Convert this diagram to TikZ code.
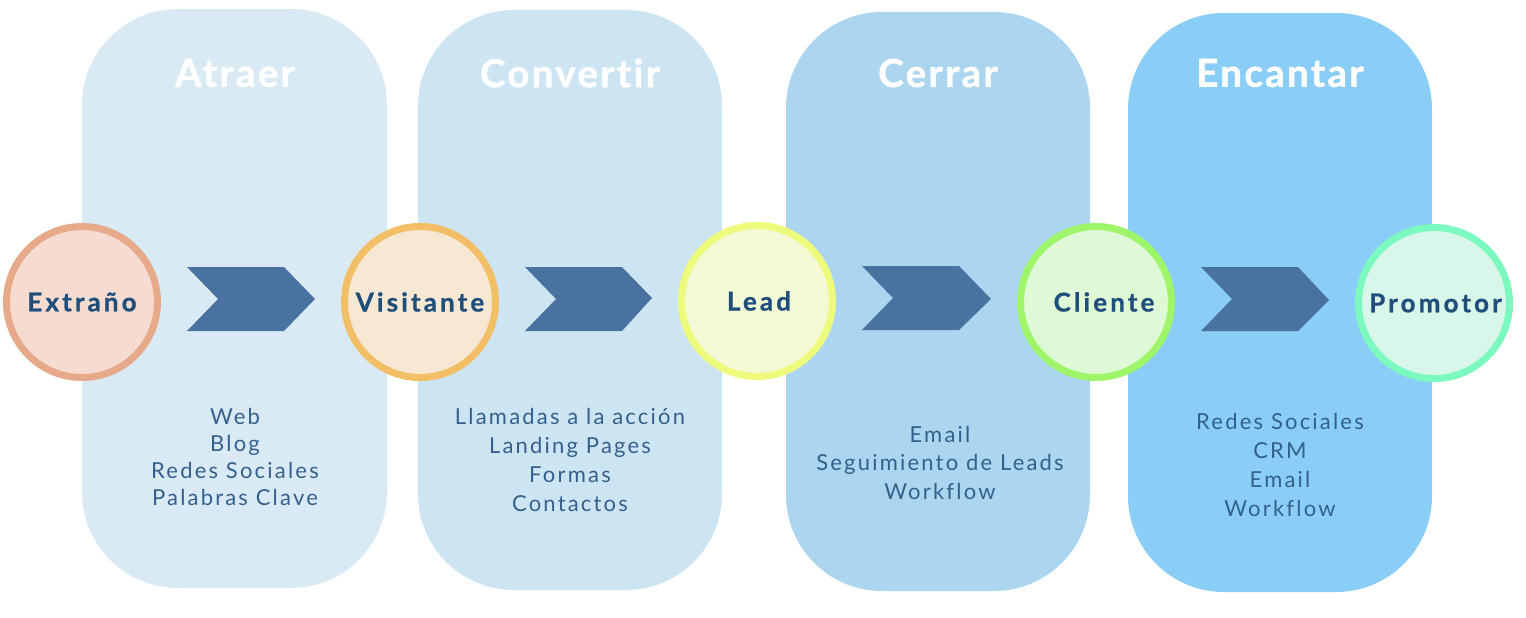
\documentclass[tikz,border=0pt]{standalone}
\usepackage{fontspec}
\setmainfont{Lato}
\newfontfamily\titlefont[LetterSpace=6,Ligatures=NoCommon,BoldFeatures={FakeBold=1.2}]{Lato}
\newfontfamily\labelfont[LetterSpace=12,Ligatures=NoCommon,BoldFeatures={FakeBold=0.8}]{Lato}
\newfontfamily\listfont[LetterSpace=10,Ligatures=NoCommon]{Lato}
\definecolor{pillA}{HTML}{DAEAF5}
\definecolor{pillB}{HTML}{CDE5F3}
\definecolor{pillC}{HTML}{ACD6F0}
\definecolor{pillD}{HTML}{8ACDF7}
\definecolor{chev}{HTML}{4A72A0}
\definecolor{labtxt}{HTML}{1F4E7A}
\definecolor{listtxt}{HTML}{34608E}
\definecolor{strA}{HTML}{E6A98A}\definecolor{filA}{HTML}{F6DCD0}
\definecolor{strB}{HTML}{F2BE66}\definecolor{filB}{HTML}{F6E8D2}
\definecolor{strC}{HTML}{EEFA7C}\definecolor{filC}{HTML}{F4F9D5}
\definecolor{strD}{HTML}{9EF56A}\definecolor{filD}{HTML}{DFF8D6}
\definecolor{strE}{HTML}{7CF9BE}\definecolor{filE}{HTML}{D8F7EA}
\tikzset{
  pill/.style={rounded corners=96pt},
  stage/.style={circle, minimum size=151pt, inner sep=0pt, line width=7pt, text=labtxt, font=\labelfont\bfseries\fontsize{26}{30}\selectfont},
  ttl/.style={text=white, font=\titlefont\bfseries\fontsize{38.5}{42}\selectfont},
  lst/.style={text=listtxt, align=center, font=\listfont\fontsize{22}{#1}\selectfont},
  lst/.default=28.7,
  chevshape/.style={fill=chev},
}
\begin{document}
\begin{tikzpicture}[x=1pt,y=-1pt]
\useasboundingbox (0,0) rectangle (1526,618);
% pills
\fill[pillA, pill] (82,9) rectangle (387,588);
\fill[pillB, pill] (418,10) rectangle (722,590);
\fill[pillC, pill] (786,12) rectangle (1090,591);
\fill[pillD, pill] (1128,13) rectangle (1432,592);
% titles
\node[ttl] (tA) at (235,73) {Atraer};
\node[ttl] (tB) at (570,73) {Convertir};
\node[ttl] (tC) at (938,73) {Cerrar};
\node[ttl] (tD) at (1280,73) {Encantar};
% lists
\node[lst=26.7] (lA) at (235,457) {Web\\Blog\\Redes Sociales\\Palabras Clave};
\node[lst=29] (lB) at (570,459.5) {Llamadas a la acción\\Landing Pages\\Formas\\Contactos};
\node[lst=28.5] (lC) at (940,462.5) {Email\\Seguimiento de Leads\\Workflow};
\node[lst=28.7] (lD) at (1280,465) {Redes Sociales\\CRM\\Email\\Workflow};
% stage circles
\node[stage, draw=strA, fill=filA] (s1) at (82,302) {Extraño};
\node[stage, draw=strB, fill=filB] (s2) at (420,302) {Visitante};
\node[stage, draw=strC, fill=filC] (s3) at (757,301) {\hspace*{4pt}Lead};
\node[stage, draw=strD, fill=filD] (s4) at (1096,302) {\hspace*{16pt}Cliente};
\node[stage, draw=strE, fill=filE] (s5) at (1434,303) {\hspace*{3pt}Promotor};
% chevrons between stages
\foreach \a/\b in {s1/s2, s2/s3, s3/s4, s4/s5}{
  \fill[chevshape] ([xshift=105pt,yshift=35pt]\a.center) -- ([xshift=202pt,yshift=35pt]\a.center)
     -- ([xshift=-105pt,yshift=3pt]\b.center) -- ([xshift=202pt,yshift=-29pt]\a.center)
     -- ([xshift=105pt,yshift=-29pt]\a.center) -- ([xshift=136pt,yshift=3pt]\a.center) -- cycle;
}
\end{tikzpicture}
\end{document}
